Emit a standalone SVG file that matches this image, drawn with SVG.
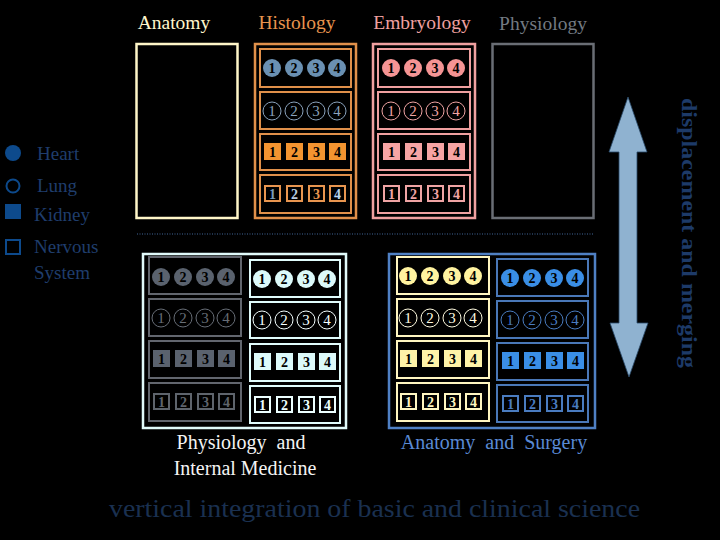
<svg xmlns="http://www.w3.org/2000/svg" xmlns:xlink="http://www.w3.org/1999/xlink" width="720" height="540" viewBox="0 0 720 540" font-family="'Liberation Serif', 'DejaVu Serif', serif">
<style>
text{font-family:'Liberation Serif','DejaVu Serif',serif}
.num{font-size:14px;font-weight:bold;text-anchor:middle}
.thin{font-size:15px;font-weight:normal;text-anchor:middle}
.hdr{font-size:19.5px;text-anchor:middle}
.leg{font-size:19px;fill:#1f3d6c}
.fr{fill:none;stroke-width:2}
.big{fill:none;stroke-width:2.5}
</style>
<defs>
<g id="rA">
<circle cx="12" cy="19" r="9" fill="currentColor"/><circle cx="34" cy="19" r="9" fill="currentColor"/><circle cx="56" cy="19" r="9" fill="currentColor"/><circle cx="77" cy="19" r="9" fill="currentColor"/>
<text class="num" x="12" y="24" fill="#000">1</text><text class="num" x="34" y="24" fill="#000">2</text><text class="num" x="56" y="24" fill="#000">3</text><text class="num" x="77" y="24" fill="#000">4</text>
</g>
<g id="rB" fill="none">
<circle cx="12" cy="19" r="9" stroke="currentColor" stroke-width="1"/><circle cx="34" cy="19" r="9" stroke="currentColor" stroke-width="1"/><circle cx="56" cy="19" r="9" stroke="currentColor" stroke-width="1"/><circle cx="77" cy="19" r="9" stroke="currentColor" stroke-width="1"/>
<text class="thin" x="12" y="24" fill="currentColor">1</text><text class="thin" x="34" y="24" fill="currentColor">2</text><text class="thin" x="56" y="24" fill="currentColor">3</text><text class="thin" x="77" y="24" fill="currentColor">4</text>
</g>
<g id="rC">
<rect x="4" y="9" width="17" height="17" fill="currentColor"/><rect x="26" y="9" width="17" height="17" fill="currentColor"/><rect x="48" y="9" width="17" height="17" fill="currentColor"/><rect x="69" y="9" width="17" height="17" fill="currentColor"/>
<text class="num" x="12.5" y="22.5" fill="#000">1</text><text class="num" x="34.5" y="22.5" fill="#000">2</text><text class="num" x="56.5" y="22.5" fill="#000">3</text><text class="num" x="77.5" y="22.5" fill="#000">4</text>
</g>
<g id="rDbox" fill="none" stroke="currentColor" stroke-width="2">
<rect x="5" y="11" width="15" height="15"/><rect x="27" y="11" width="15" height="15"/><rect x="49" y="11" width="15" height="15"/><rect x="70" y="11" width="15" height="15"/>
</g>
<g id="rD">
<use xlink:href="#rDbox"/>
<text class="num" x="12.5" y="23.5" fill="currentColor">1</text><text class="num" x="34.5" y="23.5" fill="currentColor">2</text><text class="num" x="56.5" y="23.5" fill="currentColor">3</text><text class="num" x="77.5" y="23.5" fill="currentColor">4</text>
</g>
</defs>
<rect width="720" height="540" fill="#000"/>

<g id="headers">
<text class="hdr" x="174" y="29" fill="#fff6cc">Anatomy</text>
<text class="hdr" x="297" y="29" fill="#e8954f">Histology</text>
<text class="hdr" x="422" y="29" fill="#f0a0a0">Embryology</text>
<text class="hdr" x="543" y="30" fill="#737a82">Physiology</text>
</g>

<g id="anatomy"><rect class="big" x="136.5" y="44" width="101" height="174" stroke="#fff6c8"/></g>

<g id="histology" color="#e8954f">
<rect class="big" x="255" y="44" width="101" height="174" stroke="#e0904a"/>
<rect class="fr" x="260" y="49" width="91" height="38" stroke="#e0904a"/>
<rect class="fr" x="260" y="92" width="91" height="37" stroke="#e0904a"/>
<rect class="fr" x="260" y="134" width="91" height="36" stroke="#e0904a"/>
<rect class="fr" x="260" y="175" width="91" height="38" stroke="#e0904a"/>
<use xlink:href="#rA" x="260" y="49" color="#6a90b2"/>
<use xlink:href="#rB" x="260" y="92" color="#8aa2bc"/>
<use xlink:href="#rC" x="260" y="134" color="#f39430"/>
<use xlink:href="#rDbox" x="260" y="175" color="#e8954f"/>
<text class="num" x="272.5" y="198.5" fill="#7a9cbc">1</text>
<text class="num" x="294.5" y="198.5" fill="#b8cce0">2</text>
<text class="num" x="316.5" y="198.5" fill="#e8954f">3</text>
<text class="num" x="337.5" y="198.5" fill="#b8d4f0">4</text>
</g>

<g id="embryology">
<rect class="big" x="373" y="44" width="102" height="174" stroke="#f0a0a0"/>
<rect class="fr" x="378" y="49" width="92" height="38" stroke="#f0a0a0"/>
<rect class="fr" x="378" y="92" width="92" height="37" stroke="#f0a0a0"/>
<rect class="fr" x="378" y="134" width="92" height="36" stroke="#f0a0a0"/>
<rect class="fr" x="378" y="175" width="92" height="38" stroke="#f0a0a0"/>
<use xlink:href="#rA" x="379" y="49" color="#f59494"/>
<use xlink:href="#rB" x="379" y="92" color="#f0a4a4"/>
<use xlink:href="#rC" x="379" y="134" color="#f7a4a4"/>
<use xlink:href="#rD" x="379" y="175" color="#f0a4a4"/>
</g>

<g id="physiology"><rect class="big" x="492.5" y="44" width="101" height="174" stroke="#6a6e75"/></g>

<g id="divider"><line x1="137" y1="234" x2="594" y2="234" stroke="#2c4466" stroke-width="1.5" stroke-dasharray="1 1.5"/></g>

<g id="legend">
<circle cx="13" cy="153" r="8" fill="#0d4a8c"/>
<circle cx="13" cy="186" r="6.5" fill="none" stroke="#0d4a8c" stroke-width="2"/>
<rect x="5" y="204" width="16" height="15" fill="#0d4a8c"/>
<rect x="6" y="240" width="14" height="14" fill="none" stroke="#0d4a8c" stroke-width="2"/>
<text class="leg" x="37" y="160">Heart</text>
<text class="leg" x="37" y="192">Lung</text>
<text class="leg" x="34" y="221">Kidney</text>
<text class="leg" x="34" y="253">Nervous</text>
<text class="leg" x="34" y="279">System</text>
</g>

<g id="physiology-internal-medicine">
<rect class="big" x="143" y="254" width="203" height="174" stroke="#e0fafa"/>
<rect class="fr" x="149" y="257" width="92" height="37" stroke="#62666e"/>
<rect class="fr" x="149" y="299" width="92" height="37" stroke="#62666e"/>
<rect class="fr" x="149" y="341" width="92" height="37" stroke="#62666e"/>
<rect class="fr" x="149" y="383" width="92" height="38" stroke="#62666e"/>
<use xlink:href="#rA" x="149" y="258" color="#5a626e"/>
<use xlink:href="#rB" x="149" y="299" color="#676d76"/>
<use xlink:href="#rC" x="149" y="341" color="#5a626e"/>
<use xlink:href="#rD" x="149" y="383" color="#5e646c"/>
<rect class="fr" x="250" y="260" width="90" height="37" stroke="#e0fcfc"/>
<rect class="fr" x="250" y="302" width="90" height="36" stroke="#e0fcfc"/>
<rect class="fr" x="250" y="344" width="90" height="37" stroke="#e0fcfc"/>
<rect class="fr" x="250" y="386" width="90" height="37" stroke="#e0fcfc"/>
<use xlink:href="#rA" x="250" y="260" color="#dcfafa"/>
<use xlink:href="#rB" x="250" y="301" color="#f4ffff"/>
<use xlink:href="#rC" x="250" y="344" color="#dcfafa"/>
<use xlink:href="#rD" x="250" y="386" color="#ecffff"/>
<text x="241" y="449" font-size="20" fill="#f4f4f4" text-anchor="middle" xml:space="preserve">Physiology  and</text>
<text x="245" y="475" font-size="20" fill="#f4f4f4" text-anchor="middle">Internal Medicine</text>
</g>

<g id="anatomy-surgery">
<rect class="big" x="389" y="254" width="206" height="174" stroke="#4f80c4"/>
<rect class="fr" x="397" y="257" width="92" height="37" stroke="#fff6c0"/>
<rect class="fr" x="397" y="299" width="92" height="37" stroke="#fff6c0"/>
<rect class="fr" x="397" y="341" width="92" height="37" stroke="#fff6c0"/>
<rect class="fr" x="397" y="383" width="92" height="38" stroke="#fff6c0"/>
<use xlink:href="#rA" x="396" y="257" color="#fff3a0"/>
<use xlink:href="#rB" x="396" y="299" color="#fffbe0"/>
<use xlink:href="#rC" x="396" y="341" color="#fff3a8"/>
<use xlink:href="#rD" x="396" y="383" color="#fff6c0"/>
<rect class="fr" x="497" y="259" width="91" height="37" stroke="#4a78b8"/>
<rect class="fr" x="497" y="301" width="91" height="37" stroke="#4a78b8"/>
<rect class="fr" x="497" y="343" width="91" height="37" stroke="#4a78b8"/>
<rect class="fr" x="497" y="385" width="91" height="37" stroke="#4a78b8"/>
<use xlink:href="#rA" x="498" y="259" color="#3a8ee6"/>
<use xlink:href="#rB" x="498" y="301" color="#4a7cc0"/>
<use xlink:href="#rC" x="498" y="343" color="#3a8ee6"/>
<use xlink:href="#rD" x="498" y="385" color="#4a7cc0"/>
<text x="494" y="449" font-size="20" fill="#5a8ad4" text-anchor="middle" xml:space="preserve">Anatomy  and  Surgery</text>
</g>

<g id="connectors">
<path d="M628 97 L647 152 L637 152 L637 323 L648 323 L629 377 L610 323 L619 323 L619 152 L609 152 Z" fill="#8fb2d0" stroke="#2a4a6a" stroke-width="0.8"/>
</g>

<g id="side-label">
<text transform="translate(682,98) rotate(90)" font-size="21" font-weight="bold" fill="#1d3a68" textLength="270" lengthAdjust="spacingAndGlyphs">displacement and merging</text>
</g>

<g id="footer">
<text x="109" y="517" font-size="26" fill="#1a3050" textLength="531" lengthAdjust="spacingAndGlyphs">vertical integration of basic and clinical science</text>
</g>
</svg>
